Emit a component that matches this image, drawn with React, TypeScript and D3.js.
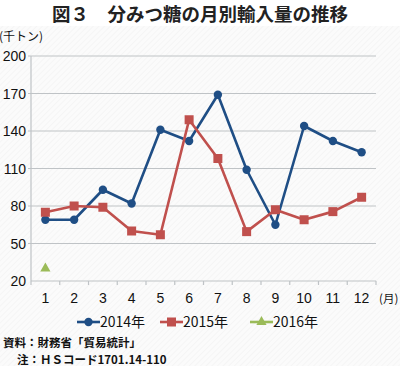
import React from "react";
import * as d3 from "d3";

const months = ["1", "2", "3", "4", "5", "6", "7", "8", "9", "10", "11", "12"];
const yTicks = [20, 50, 80, 110, 140, 170, 200];
const s2014 = [69, 69, 93, 82, 141, 132, 169, 109, 65, 144, 132, 123];
const s2015 = [75, 80, 79, 60, 57, 149, 118, 59.5, 77, 69, 75.5, 87];
const s2016 = [30];
const seriesNames = ["2014年", "2015年", "2016年"];
const colors = ["#1f4e85", "#c0504d", "#9bbb59"];

const W = 400, H = 366;
const left = 31, right = 376, top = 56, bottom = 281;

export default function App() {
  const x = d3.scaleBand<string>().domain(months).range([left, right]);
  const y = d3.scaleLinear().domain([20, 200]).range([bottom, top]);
  const cx = (i: number) => (x(months[i]) as number) + x.bandwidth() / 2;
  const line = d3.line<number>().x((_, i) => cx(i)).y((v) => y(v));
  const font = "'Noto Sans CJK JP', 'Noto Sans', sans-serif";
  const numFont = "'Liberation Sans', Arial, sans-serif";
  const series = [s2014, s2015, s2016];

  const marker = (k: number, px: number, py: number, key: string) => {
    if (k === 0) return <circle key={key} cx={px} cy={py} r={4.2} fill={colors[0]} />;
    if (k === 1) return <rect key={key} x={px - 4.5} y={py - 4.5} width={9} height={9} fill={colors[1]} />;
    const t = d3.symbol().type(d3.symbolTriangle).size(45)();
    return <path key={key} d={t as string} transform={`translate(${px},${py})`} fill={colors[2]} />;
  };

  const legendX = [77, 160, 250];
  const boundaries = months.map((m) => x(m) as number).concat([right]);

  return (
    <svg width={W} height={H} style={{ position: "absolute", left: 0, top: 0, background: "#fff" }} fontFamily={font}>
      <defs>
        <pattern id="hatch" width="4" height="4" patternUnits="userSpaceOnUse" patternTransform="rotate(45)">
          <rect width="4" height="4" fill="#fbfbfb" />
          <line x1="0" y1="0" x2="0" y2="4" stroke="#f0f0f0" strokeWidth="1" />
        </pattern>
      </defs>
      <rect x={0} y={0} width={W} height={H} fill="#fff" />
      <rect x={0} y={26} width={W} height={H - 26} fill="url(#hatch)" />
      <text x={200} y={21} textAnchor="middle" fontSize={18.5} fontWeight={700} fill="#222">図３　分みつ糖の月別輸入量の推移</text>
      <text x={-1} y={41} fontSize={12} fill="#111">(千トン)</text>
      {yTicks.map((t) => (
        <g key={t}>
          {t !== 20 && <line x1={left - 3} x2={right} y1={y(t)} y2={y(t)} stroke="#bfc3c6" strokeWidth={1.2} />}
          <text x={26} y={y(t) + 5} textAnchor="end" fontSize={14} fontFamily={numFont} fill="#111">{t}</text>
        </g>
      ))}
      <line x1={left} x2={left} y1={top} y2={bottom} stroke="#bfc3c6" strokeWidth={1.2} />
      <line x1={left} x2={right} y1={bottom} y2={bottom} stroke="#bfc3c6" strokeWidth={1.2} />
      {boundaries.map((b, i) => (
        <line key={i} x1={b} x2={b} y1={bottom} y2={bottom + 4} stroke="#bfc3c6" strokeWidth={1.2} />
      ))}
      {months.map((m, i) => (
        <text key={m} x={cx(i)} y={303} textAnchor="middle" fontSize={14} fontFamily={numFont} fill="#111">{m}</text>
      ))}
      <text x={379} y={303} fontSize={11.5} fill="#111">(月)</text>
      {series.map((s, k) => (
        <g key={k}>
          {s.length > 1 && <path d={line(s) as string} fill="none" stroke={colors[k]} strokeWidth={2.6} strokeLinejoin="round" />}
          {s.map((v, i) => marker(k, cx(i), y(v), `${k}-${i}`))}
        </g>
      ))}
      {seriesNames.map((n, k) => (
        <g key={n}>
          <line x1={legendX[k]} x2={legendX[k] + 23} y1={322} y2={322} stroke={colors[k]} strokeWidth={2.6} />
          {marker(k, legendX[k] + 11.5, 322, `lg${k}`)}
          <text x={legendX[k] + 23} y={327} fontSize={14} fill="#111">{n}</text>
        </g>
      ))}
      <text x={3} y={347} fontSize={11.5} fontWeight={700} fill="#111">資料：財務省「貿易統計」</text>
      <text x={17} y={364} fontSize={11.5} fontWeight={700} fill="#111">注：ＨＳコード1701.14-110</text>
    </svg>
  );
}
